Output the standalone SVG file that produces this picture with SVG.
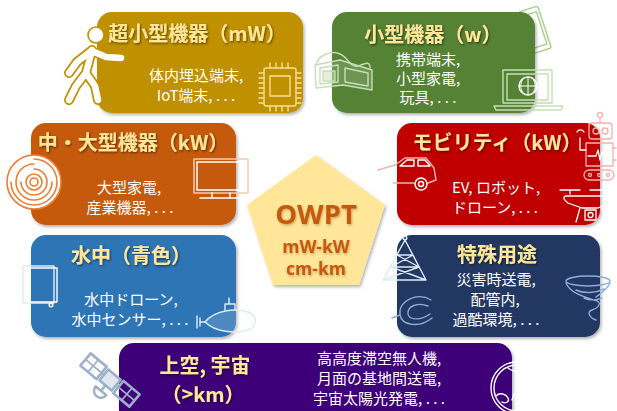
<svg xmlns="http://www.w3.org/2000/svg" width="617" height="411" viewBox="0 0 617 411">
  <defs>
    <filter id="tshadow" x="-10%" y="-30%" width="130%" height="170%">
      <feDropShadow dx="1" dy="1.2" stdDeviation="0.8" flood-color="#000" flood-opacity="0.55"/>
    </filter>
    <filter id="bshadow" x="-10%" y="-10%" width="130%" height="130%">
      <feDropShadow dx="1.5" dy="2" stdDeviation="1.5" flood-color="#000" flood-opacity="0.3"/>
    </filter>
    <filter id="oshadow" x="-10%" y="-20%" width="130%" height="150%">
      <feDropShadow dx="1" dy="1.5" stdDeviation="1" flood-color="#7a3a00" flood-opacity="0.35"/>
    </filter>
  </defs>
  <style>
    .box { stroke: none; }
    .title { font-family: "Noto Sans CJK JP", "Noto Sans", sans-serif; font-weight: bold; font-size: 20px; fill: #FFE699; text-anchor: middle; filter: url(#tshadow); }
    .body { font-family: "Noto Sans CJK JP", "Noto Sans", sans-serif; font-size: 15px; fill: #FFFFFF; text-anchor: middle; }
    .left { text-anchor: start; }
    .core { font-family: "Open Sans", "Noto Sans", sans-serif; font-weight: bold; fill: #C55A11; text-anchor: middle; filter: url(#oshadow); }
    .ico { fill: none; stroke-linecap: round; stroke-linejoin: round; }
  </style>
  <rect width="617" height="411" fill="#FFFFFF"/>

  <!-- ultra-small devices -->
  <g id="node-ultra-small">
    <rect class="box" x="97" y="12" width="206" height="101" rx="15" fill="#BF9000" filter="url(#bshadow)"/>
    <text class="title" x="197" y="41">超小型機器（mW）</text>
    <text class="body" x="196" y="81">体内埋込端末,</text>
    <text class="body" x="196" y="101">IoT端末, . . .</text>
    <!-- walking person -->
    <g class="ico">
      <path d="M92,50 L86,73 L76,86 L69,100 M86,73 L95,86 L98,100 M92,51 L106,57 L121,58 M91,51 L77,62 L69,73" stroke="#BF9000" stroke-width="10"/>
      <path d="M92,50 L86,73 L76,86 L69,100 M86,73 L95,86 L98,100 M92,51 L106,57 L121,58 M91,51 L77,62 L69,73" stroke="#FFFFFF" stroke-width="6.5"/>
      <circle cx="96" cy="35" r="8" fill="#FFFFFF" stroke="#BF9000" stroke-width="1.6"/>
    </g>
    <!-- chip -->
    <g class="ico" stroke="#F7DE98" stroke-width="1.4">
      <rect x="264" y="68" width="32" height="38" rx="2"/>
      <rect x="270" y="76" width="20" height="20"/>
      <path d="M259,73 h5 M259,78 h5 M259,83 h5 M259,88 h5 M259,93 h5 M259,98 h5 M259,103 h5 M296,73 h5 M296,78 h5 M296,83 h5 M296,88 h5 M296,93 h5 M296,98 h5 M296,103 h5 M270,63 v5 M276,63 v5 M282,63 v5 M288,63 v5 M270,106 v5 M276,106 v5 M282,106 v5 M288,106 v5"/>
    </g>
  </g>

  <!-- small devices -->
  <g id="node-small">
    <g class="ico" stroke="#A9D18E" stroke-width="1.5">
      <rect x="-10" y="-22" width="20" height="44" rx="2" transform="translate(535,30) rotate(-18)" fill="#FFFFFF"/>
      <rect x="-7" y="-17" width="14" height="34" transform="translate(535,30) rotate(-18)"/>
    </g>
    <rect class="box" x="332" y="12" width="203" height="101" rx="15" fill="#548235" filter="url(#bshadow)"/>
    <text class="title" x="433" y="42">小型機器（w）</text>
    <text class="body" x="428" y="65">携帯端末,</text>
    <text class="body" x="428" y="84">小型家電,</text>
    <text class="body" x="428" y="103">玩具, . . .</text>
    <!-- 3D glasses -->
    <g class="ico" stroke="#C5E0B4" stroke-width="1.4">
      <path d="M315,65 L340,60 L372,70 L372,90 L343,85 L316,88 Z" fill="#FFFFFF" fill-opacity="0.15"/>
      <path d="M320,68 L338,65 L338,82 L320,84 Z"/>
      <rect x="323" y="71" width="12" height="10" fill="#C5E0B4" fill-opacity="0.5"/>
      <path d="M345,68 L368,73 L368,86 L345,82 Z"/>
      <path d="M316,65 C318,55 332,50 340,54 M340,54 C348,57 350,68 358,66 C364,64 370,60 370,68"/>
    </g>
    <!-- laptop -->
    <g class="ico" stroke="#C5E0B4" stroke-width="1.4">
      <rect x="503" y="70" width="49" height="33"/>
      <rect x="507" y="74" width="41" height="26"/>
      <path d="M494,106 H563 L561,110 H496 Z"/>
      <circle cx="528" cy="86" r="9" stroke="#FFFFFF"/>
      <path d="M519,86 H537 M528,77 V95 M523,79 C520,84 520,88 523,93 M533,79 C536,84 536,88 533,93" stroke="#FFFFFF" stroke-width="1"/>
    </g>
  </g>

  <!-- medium / large devices -->
  <g id="node-large">
    <rect class="box" x="31" y="123" width="205" height="102" rx="15" fill="#C55A11" filter="url(#bshadow)"/>
    <text class="title" x="133" y="150">中・大型機器（kW）</text>
    <text class="body" x="129" y="193">大型家電,</text>
    <text class="body" x="130" y="213">産業機器, . . .</text>
    <!-- coil -->
    <g class="ico" stroke="#ED7D31" stroke-width="1.6">
      <circle cx="34" cy="182" r="27" fill="#FFFFFF"/>
      <path d="M34,159 A23,23 0 1 1 11,182 M34,164 A18,18 0 1 0 52,182 M34,169 A13,13 0 1 1 21,182"/>
      <circle cx="34" cy="182" r="8"/>
      <circle cx="34" cy="182" r="4"/>
    </g>
    <!-- monitor -->
    <g class="ico" stroke-width="1.5">
      <rect x="194" y="159" width="54" height="34" stroke="#F8CBAD"/>
      <rect x="197" y="162" width="48" height="28" stroke="#FFFFFF"/>
      <path d="M200,198 H241 M212,193 V198 M230,193 V198" stroke="#FFFFFF"/>
    </g>
  </g>

  <!-- mobility -->
  <g id="node-mobility">
    <rect class="box" x="397" y="123" width="203" height="102" rx="15" fill="#C00000" filter="url(#bshadow)"/>
    <text class="title" x="497" y="150">モビリティ（kW）</text>
    <text class="body left" x="452" y="193">EV, ロボット,</text>
    <text class="body left" x="452" y="213">ドローン, . . .</text>
    <!-- car -->
    <g class="ico" stroke-width="1.5">
      <path d="M378,170 L395,165 L405,158 L426,158 L434,168 L436,180 L428,183 M414,183 H393" stroke="#F4B1B1"/>
      <path d="M400,166 L407,160 L414,160 L414,166 Z M418,160 L425,160 L430,166 L418,166 Z" stroke="#FFFFFF"/>
      <circle cx="421" cy="184" r="6" stroke="#FFFFFF"/>
      <circle cx="421" cy="184" r="2.5" stroke="#FFFFFF"/>
    </g>
    <!-- robot -->
    <g class="ico" stroke="#F4B1B1" stroke-width="1.3">
      <circle cx="600" cy="115" r="2.5"/>
      <path d="M600,118 V123"/>
      <rect x="589" y="123" width="23" height="16" rx="3"/>
      <circle cx="596" cy="131" r="3"/>
      <circle cx="605" cy="131" r="3"/>
      <rect x="586" y="143" width="27" height="23"/>
      <path d="M588,156 H596 L598,150 L600,160 L602,152 L604,156 H611" stroke="#FFFFFF"/>
      <rect x="584" y="170" width="30" height="10" rx="5"/>
      <circle cx="590" cy="175" r="1.5"/><circle cx="599" cy="175" r="1.5"/><circle cx="608" cy="175" r="1.5"/>
      <path d="M586,150 H580 V138 M577,132 A4,4 0 0 1 584,132" stroke="#FFFFFF"/>
      <path d="M613,148 H616 M613,160 H616"/>
    </g>
    <!-- drone -->
    <g class="ico" stroke="#FFFFFF" stroke-width="1.3">
      <path d="M560,190 H580 M590,190 H616 M570,190 V194 M604,190 V194"/>
      <path d="M566,196 H608 C612,196 614,200 610,203 L598,208 H582 L568,203 C564,200 562,197 566,196 Z"/>
      <path d="M580,208 L576,222 M602,208 L606,222"/>
      <rect x="585" y="210" width="11" height="10"/>
      <circle cx="590.5" cy="215" r="2.5"/>
    </g>
  </g>

  <!-- underwater -->
  <g id="node-underwater">
    <rect class="box" x="31" y="235" width="205" height="102" rx="15" fill="#2E75B6" filter="url(#bshadow)"/>
    <text class="title" x="131" y="263">水中（青色）</text>
    <text class="body" x="131" y="305">水中ドローン,</text>
    <text class="body" x="130" y="325">水中センサー, . . .</text>
    <!-- frame -->
    <g class="ico" stroke-width="1.4">
      <rect x="23" y="266" width="31" height="37" stroke="#DEEBF7"/>
      <rect x="28" y="268" width="29" height="34" stroke="#FFFFFF"/>
      <circle cx="51" cy="305" r="1.8" stroke="#FFFFFF"/>
    </g>
    <!-- submarine -->
    <g class="ico" stroke="#DEEBF7" stroke-width="1.4">
      <path d="M205,322 C215,310 235,308 248,312 C258,316 258,326 248,330 C235,334 215,332 205,322 Z" fill="#FFFFFF" fill-opacity="0.15"/>
      <path d="M225,310 V304 H235 V310 M229,304 V298"/>
      <path d="M197,316 V328 M200,318 V326 M200,322 H205"/>
    </g>
  </g>

  <!-- special environments -->
  <g id="node-special">
    <rect class="box" x="397" y="235" width="203" height="102" rx="15" fill="#203864" filter="url(#bshadow)"/>
    <text class="title" x="497" y="262">特殊用途</text>
    <text class="body" x="496" y="285">災害時送電,</text>
    <text class="body" x="495" y="305">配管内,</text>
    <text class="body" x="496" y="325">過酷環境, . . .</text>
    <!-- lattice tower -->
    <g class="ico" stroke="#DEEBF7" stroke-width="1.4">
      <circle cx="405" cy="238" r="1.8"/>
      <path d="M405,240 L383,280 H426 Z M397,255 H413 M391,267 H419 M397,255 L419,267 M413,255 L391,267 M391,267 L426,280 M419,267 L383,280"/>
    </g>
    <!-- pipe -->
    <g class="ico" stroke="#8FAADC" stroke-width="1.4">
      <path d="M431,300 C418,292 398,300 400,315 C402,326 420,328 432,318"/>
      <path d="M428,306 C418,302 407,306 408,314 C409,320 420,321 430,314"/>
      <path d="M400,315 L392,318"/>
    </g>
    <!-- tornado -->
    <g class="ico" stroke="#8FAADC" stroke-width="1.4">
      <ellipse cx="588" cy="281" rx="22" ry="5"/>
      <path d="M566,283 C570,293 584,297 594,300 C604,302 598,308 592,310 C586,312 590,318 596,320 M610,283 C606,291 600,294 596,297 M576,290 C584,294 596,293 604,289 M584,298 C590,301 598,300 602,298"/>
    </g>
  </g>

  <!-- high altitude / space -->
  <g id="node-space">
    <rect class="box" x="119" y="343" width="393" height="82" rx="15" fill="#3C0078" filter="url(#bshadow)"/>
    <text class="title" x="205" y="373">上空, 宇宙</text>
    <text class="title" x="203" y="402">（&gt;km）</text>
    <text class="body" x="379" y="364">高高度滞空無人機,</text>
    <text class="body" x="379" y="384">月面の基地間送電,</text>
    <text class="body" x="379" y="404">宇宙太陽光発電, . . .</text>
    <!-- satellite -->
    <g class="ico" stroke="#9DB0C8" stroke-width="2.6" transform="translate(110,380) rotate(-50)">
      <rect x="-7" y="-8" width="14" height="16" fill="#9DB0C8" fill-opacity="0.3"/>
      <rect x="-8" y="-32" width="16" height="21"/>
      <rect x="-8" y="11" width="16" height="21"/>
      <path d="M0,-11 V-8 M0,8 V11 M-8,-22 H8 M0,-32 V-11 M-8,22 H8 M0,11 V32" stroke-width="1.8"/>
      <path d="M-7,0 H-14 M-14,-7 A7,7 0 0 0 -14,7 Z" stroke-width="2.4"/>
    </g>
    <!-- globe -->
    <g class="ico" stroke="#FFFFFF" stroke-width="1.4">
      <circle cx="517" cy="388" r="26"/>
      <circle cx="517" cy="388" r="23"/>
      <path d="M508,368 C513,372 516,370 520,374 C524,378 518,382 522,386 C526,390 530,384 531,378 M496,396 C500,392 506,394 508,398 C510,402 505,404 502,402 M528,395 C532,392 536,394 535,398 C534,402 528,402 528,395 Z M514,394 L512,400"/>
    </g>
  </g>

  <!-- central pentagon -->
  <g id="node-owpt">
    <polygon points="316,155 385,205 359,285 273,285 247,205" fill="#FFE699" filter="url(#bshadow)"/>
    <text class="core" x="316" y="224" font-size="27.5">OWPT</text>
    <text class="core" x="316" y="253" font-size="17.5">mW-kW</text>
    <text class="core" x="316" y="275" font-size="17.5">cm-km</text>
  </g>
</svg>
